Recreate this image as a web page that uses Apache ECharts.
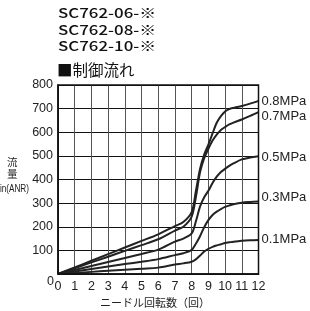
<!DOCTYPE html>
<html><head><meta charset="utf-8">
<script src="https://cdn.jsdelivr.net/npm/echarts@6/dist/echarts.min.js"></script>
<style>html,body{margin:0;padding:0;background:#fff}#c{width:310px;height:311px}</style>
</head><body><div id="c"></div>
<script>
const turns = [0,1,2,3,4,5,6,7,7.5,8,8.25,8.5,8.75,9,9.25,9.5,9.75,10,10.25,10.5,11,11.5,12];
const p08 = [0,28,56,84,112,140,168,203,220,262,350,445,505,548,595,640,668,688,698,703,711,721,733];
const p07 = [0,24.5,49,73,98,122,147,184,200,243,325,430,490,530,565,590,610,622,633,641,654,669,685];
const p05 = [0,17,34,51,68,85,103,137,150,172,222,285,325,352,385,412,432,445,458,468,485,493,498];
const p03 = [0,10.5,21,31.5,42,52,63,80,88,102,128,160,198,228,250,264,275,284,290,295,302,305,307];
const p01 = [0,4.5,9,13.5,18,22.5,27,40,45,52,62,78,95,106,115,121,126,131,134,137,141,143,144];
const seriesNames = ['0.8MPa','0.7MPa','0.5MPa','0.3MPa','0.1MPa'];
const labelOffsets = [[2,1],[2,4],[2,1],[2,-4],[2,-1]];
const titleLines = ['SC762-06-※','SC762-08-※','SC762-10-※'];
const subTitle = '■制御流れ';
const xName = 'ニードル回転数（回）';
const yNameChars = ['流','量'];
const yUnit = 'ℓ/min(ANR)';

const all = [p08,p07,p05,p03,p01];
const chart = echarts.init(document.getElementById('c'));
const FONT = '"Liberation Sans", Arial, sans-serif';
const JP = '"Noto Sans CJK JP", sans-serif';
chart.setOption({
  animation:false,
  grid:{left:58,top:85,right:51.5,bottom:37,show:false},
  xAxis:{type:'value',min:0,max:12,interval:1,
    axisLine:{show:true,lineStyle:{color:'#111',width:1.5}},
    axisTick:{show:false},
    splitLine:{show:true,lineStyle:{color:'#555',width:1}},
    axisLabel:{fontSize:12.5,color:'#222',margin:6,fontFamily:FONT}},
  yAxis:{type:'value',min:0,max:800,interval:100,
    axisLine:{show:true,lineStyle:{color:'#111',width:1.5}},
    axisTick:{show:false},
    splitLine:{show:true,lineStyle:{color:'#111',width:1}},
    axisLabel:{fontSize:12.5,color:'#222',margin:5,fontFamily:FONT,showMinLabel:false,padding:[10,0,0,0]}},
  graphic:[
    {type:'rect',shape:{x:58,y:85,width:200.5,height:189},style:{fill:'none',stroke:'#111',lineWidth:1.5},z:10},
    ...titleLines.map((t,i)=>({type:'text',x:58,y:6+i*16.7,scaleX:1.25,style:{text:t,fontSize:13.5,fontWeight:500,fill:'#111',fontFamily:JP}})),
    {type:'text',x:57,y:62,style:{text:subTitle,fontSize:15.5,fill:'#111',fontFamily:JP}},
    {type:'text',x:47,y:275,style:{text:'0',fontSize:12.5,fill:'#222',fontFamily:FONT}},
    ...yNameChars.map((c,i)=>({type:'text',x:7,y:157+i*12,style:{text:c,fontSize:10.5,fill:'#222',fontFamily:JP}})),
    {type:'text',x:29,y:184,scaleX:0.78,style:{text:yUnit,fontSize:10.5,fill:'#222',fontFamily:FONT,align:'right'}},
    {type:'text',left:'center',top:297,style:{text:xName,fontSize:11,fill:'#222',fontFamily:JP}}
  ],
  series: all.map((arr,i)=>({
    type:'line',name:seriesNames[i],smooth:0.3,symbol:'none',
    data:turns.map((x,j)=>[x,arr[j]]),
    lineStyle:{color:'#222',width:2},
    endLabel:{show:true,formatter:seriesNames[i],fontSize:13,color:'#222',fontFamily:FONT,offset:labelOffsets[i],distance:1},
    z:5
  }))
});
</script></body></html>
